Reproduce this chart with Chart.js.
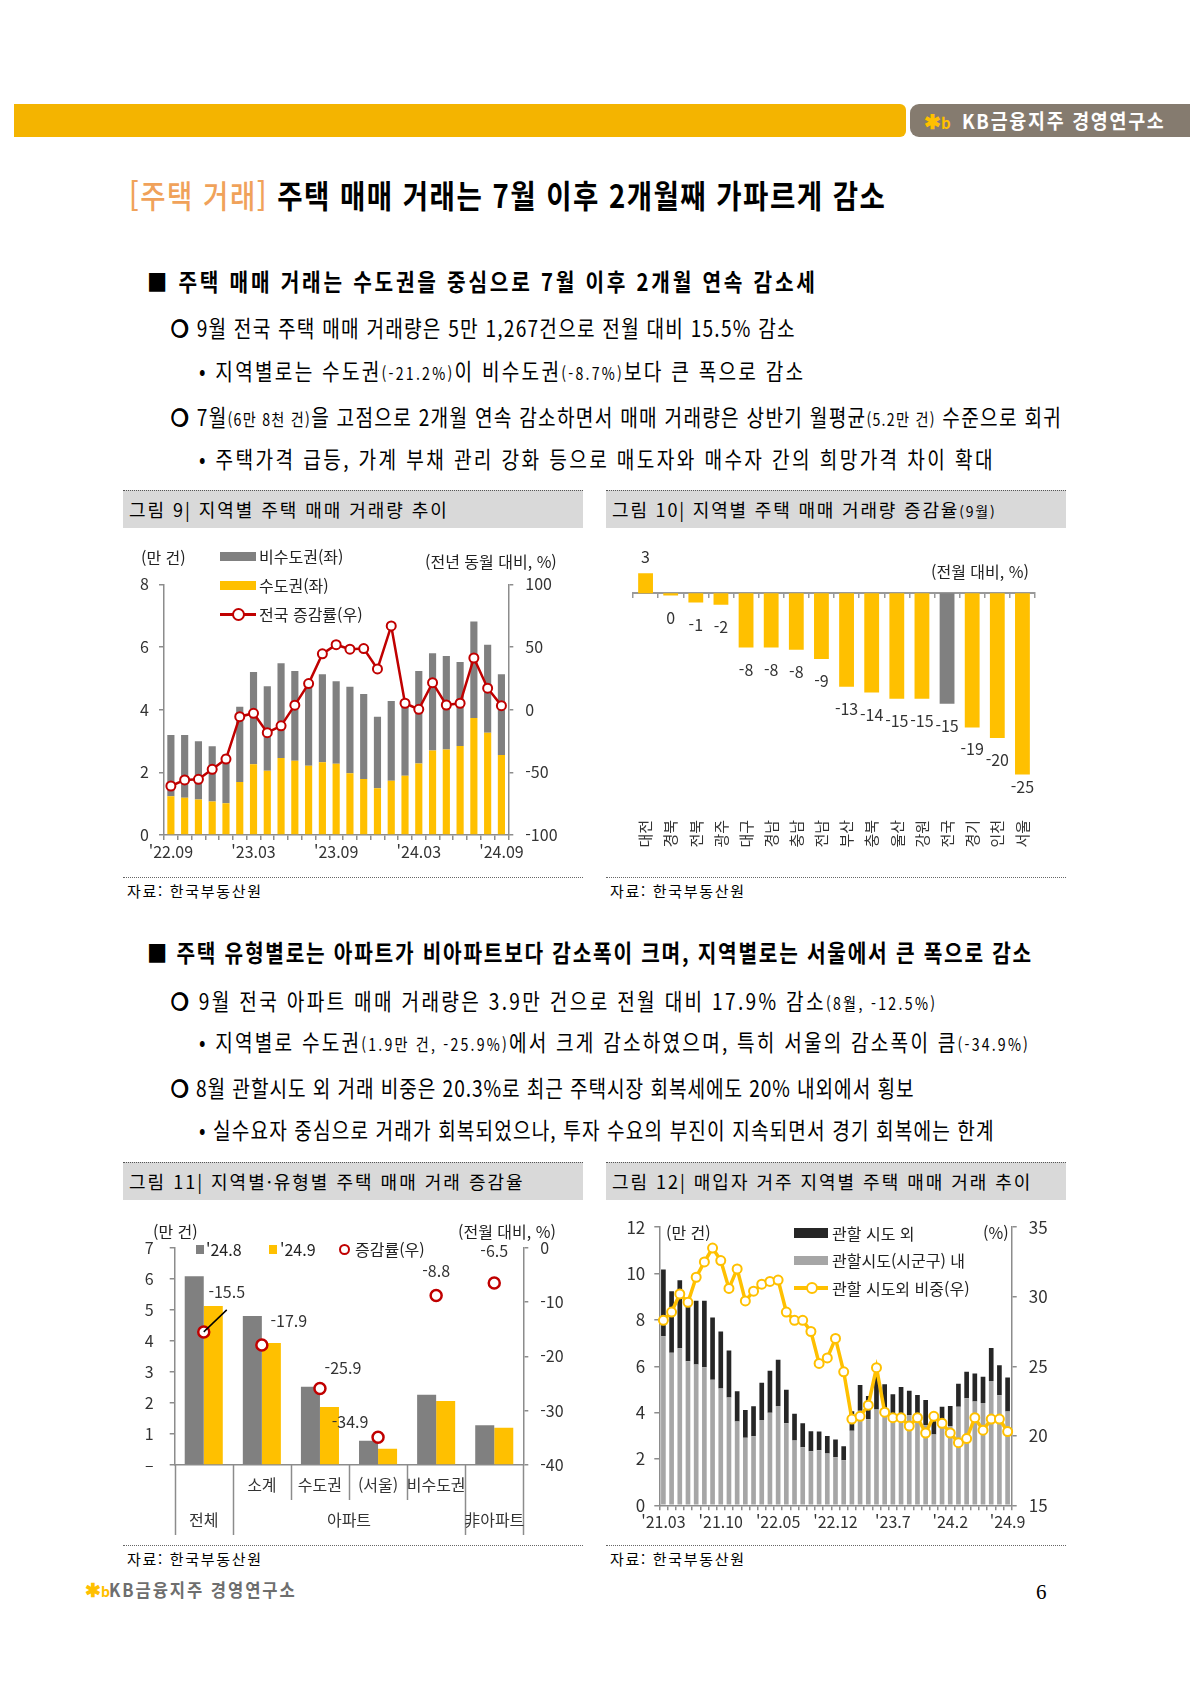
<!DOCTYPE html>
<html lang="ko">
<head>
<meta charset="utf-8">
<title>주택 매매 거래</title>
<script src="https://cdn.jsdelivr.net/npm/chart.js@4.4.1/dist/chart.umd.min.js"></script>
<style>
  html, body { margin: 0; padding: 0; background: #fff; }
  body { width: 1190px; height: 1683px; position: relative; overflow: hidden;
         font-family: 'Noto Sans CJK KR', 'Noto Sans', sans-serif; color: #000; }
  .t { position: absolute; white-space: nowrap; line-height: 30px; height: 30px; }
  .s { font-size: 0.74em; }
  .o { font-weight: 700; -webkit-text-stroke: 0.6px #000; }
  canvas { position: absolute; }
  .cap { position: absolute; height: 38px; width: 460px; background: #D9D9D9; border-top: 1.5px dotted #555;
         box-sizing: border-box; font-size: 18px; line-height: 36px; padding-left: 6px; white-space: nowrap; }
  .src { position: absolute; width: 460px; border-top: 1px dotted #666; font-size: 15px; line-height: 26px;
         padding-left: 4px; box-sizing: border-box; white-space: nowrap; }
  .lg { position: absolute; white-space: nowrap; font-size: 16px; line-height: 20px; height: 20px; color: #222; }
  .sw { position: absolute; }
  .h2 { font-size: 23.5px; font-weight: 700; }
  .b { font-size: 22.5px; }
</style>
</head>
<body>

<!-- header -->
<div style="position:absolute;left:14px;top:104px;width:892px;height:33px;background:#F4B400;border-radius:0 6px 6px 0;"></div>
<div style="position:absolute;left:910px;top:104px;width:280px;height:33px;background:#857B6F;border-radius:9px 0 0 9px;"></div>
<div class="t" style="left:924px;top:106px;font-size:20px;color:#FFC000;font-weight:700;">✱<span style="font-size:15px;">b</span></div>
<div class="t" data-w="204" data-sx="0.92" style="left:962px;top:106px;font-size:20px;color:#fff;font-weight:700;">KB금융지주 경영연구소</div>

<div class="t" data-w="757" data-sx="0.86" style="left:129px;top:175px;font-size:32px;font-weight:700;line-height:38px;height:38px;"><span style="color:#F0A25A;font-weight:500;">[주택 거래]</span> 주택 매매 거래는 7월 이후 2개월째 가파르게 감소</div>

<!-- section 1 -->
<div class="t h2" data-w="671" data-sx="0.86" style="left:147px;top:266px;">■ 주택 매매 거래는 수도권을 중심으로 7월 이후 2개월 연속 감소세</div>
<div class="t b" data-w="625" data-sx="0.85" style="left:171px;top:312px;"><span class="o">❍</span> 9월 전국 주택 매매 거래량은 5만 1,267건으로 전월 대비 15.5% 감소</div>
<div class="t b" data-w="606" data-sx="0.85" style="left:199px;top:355px;">• 지역별로는 수도권<span class="s">(-21.2%)</span>이 비수도권<span class="s">(-8.7%)</span>보다 큰 폭으로 감소</div>
<div class="t b" data-w="891" data-sx="0.85" style="left:171px;top:401px;"><span class="o">❍</span> 7월<span class="s">(6만 8천 건)</span>을 고점으로 2개월 연속 감소하면서 매매 거래량은 상반기 월평균<span class="s">(5.2만 건)</span> 수준으로 회귀</div>
<div class="t b" data-w="796" data-sx="0.85" style="left:199px;top:443px;">• 주택가격 급등, 가계 부채 관리 강화 등으로 매도자와 매수자 간의 희망가격 차이 확대</div>

<div class="cap" style="left:123px;top:490px;"><span data-w="320">그림 9| 지역별 주택 매매 거래량 추이</span></div>
<div class="cap" style="left:606px;top:490px;"><span data-w="385">그림 10| 지역별 주택 매매 거래량 증감율<span style="font-size:14px;">(9월)</span></span></div>

<canvas id="c9" width="462" height="340" style="left:123px;top:530px;"></canvas>
<canvas id="c10" width="462" height="340" style="left:606px;top:530px;"></canvas>

<!-- chart 9 legend -->
<div class="lg" style="left:141px;top:547px;">(만 건)</div>
<div class="sw" style="left:220px;top:552px;width:36px;height:9px;background:#808080;"></div>
<div class="lg" style="left:259px;top:546px;">비수도권(좌)</div>
<div class="sw" style="left:220px;top:581px;width:36px;height:9px;background:#FFC000;"></div>
<div class="lg" style="left:259px;top:575px;">수도권(좌)</div>
<div class="sw" style="left:220px;top:613px;width:36px;height:2.5px;background:#C00000;"></div>
<div class="sw" style="left:232px;top:608px;width:9px;height:9px;border:2px solid #C00000;border-radius:50%;background:#fff;"></div>
<div class="lg" style="left:259px;top:604px;">전국 증감률(우)</div>
<div class="lg" style="left:425px;top:551px;">(전년 동월 대비, %)</div>

<!-- chart 10 unit -->
<div class="lg" style="left:931px;top:561px;">(전월 대비, %)</div>

<div class="src" style="left:123px;top:877px;"><span data-w="136">자료: 한국부동산원</span></div>
<div class="src" style="left:606px;top:877px;"><span data-w="136">자료: 한국부동산원</span></div>

<!-- section 2 -->
<div class="t h2" data-w="886" data-sx="0.86" style="left:147px;top:937px;">■ 주택 유형별로는 아파트가 비아파트보다 감소폭이 크며, 지역별로는 서울에서 큰 폭으로 감소</div>
<div class="t b" data-w="766" data-sx="0.85" style="left:171px;top:985px;"><span class="o">❍</span> 9월 전국 아파트 매매 거래량은 3.9만 건으로 전월 대비 17.9% 감소<span class="s">(8월, -12.5%)</span></div>
<div class="t b" data-w="831" data-sx="0.85" style="left:199px;top:1026px;">• 지역별로 수도권<span class="s">(1.9만 건, -25.9%)</span>에서 크게 감소하였으며, 특히 서울의 감소폭이 큼<span class="s">(-34.9%)</span></div>
<div class="t b" data-w="744" data-sx="0.85" style="left:171px;top:1072px;"><span class="o">❍</span> 8월 관할시도 외 거래 비중은 20.3%로 최근 주택시장 회복세에도 20% 내외에서 횡보</div>
<div class="t b" data-w="796" data-sx="0.85" style="left:199px;top:1114px;">• 실수요자 중심으로 거래가 회복되었으나, 투자 수요의 부진이 지속되면서 경기 회복에는 한계</div>

<div class="cap" style="left:123px;top:1162px;"><span data-w="396">그림 11| 지역별·유형별 주택 매매 거래 증감율</span></div>
<div class="cap" style="left:606px;top:1162px;"><span data-w="420">그림 12| 매입자 거주 지역별 주택 매매 거래 추이</span></div>

<canvas id="c11" width="462" height="340" style="left:123px;top:1205px;"></canvas>
<canvas id="c12" width="470" height="340" style="left:600px;top:1205px;"></canvas>

<!-- chart 11 legend -->
<div class="lg" style="left:153px;top:1221px;">(만 건)</div>
<div class="sw" style="left:196px;top:1245px;width:8px;height:9px;background:#808080;"></div>
<div class="lg" style="left:206px;top:1239px;">'24.8</div>
<div class="sw" style="left:269px;top:1245px;width:8px;height:9px;background:#FFC000;"></div>
<div class="lg" style="left:280px;top:1239px;">'24.9</div>
<div class="sw" style="left:339px;top:1244px;width:7px;height:7px;border:2.5px solid #C00000;border-radius:50%;background:#fff;"></div>
<div class="lg" style="left:355px;top:1239px;">증감률(우)</div>
<div class="lg" style="left:458px;top:1221px;">(전월 대비, %)</div>

<!-- chart 12 legend -->
<div class="lg" style="left:666px;top:1222px;">(만 건)</div>
<div class="sw" style="left:794px;top:1228px;width:34px;height:10px;background:#262626;"></div>
<div class="lg" style="left:832px;top:1223px;">관할 시도 외</div>
<div class="sw" style="left:794px;top:1256px;width:34px;height:9px;background:#A6A6A6;"></div>
<div class="lg" style="left:832px;top:1250px;">관할시도(시군구) 내</div>
<div class="sw" style="left:794px;top:1286px;width:34px;height:3.5px;background:#FFC000;"></div>
<div class="sw" style="left:806px;top:1282px;width:8px;height:8px;border:2px solid #FFC000;border-radius:50%;background:#fff;"></div>
<div class="lg" style="left:832px;top:1278px;">관할 시도외 비중(우)</div>
<div class="lg" style="left:983px;top:1222px;">(%)</div>

<div class="src" style="left:123px;top:1545px;"><span data-w="136">자료: 한국부동산원</span></div>
<div class="src" style="left:606px;top:1545px;"><span data-w="136">자료: 한국부동산원</span></div>

<!-- footer -->
<div class="t" style="left:85px;top:1574px;font-size:19px;color:#FFC000;font-weight:700;">✱<span style="font-size:14px;">b</span></div>
<div class="t" data-w="188" data-sx="0.92" style="left:109px;top:1574px;font-size:18px;color:#6E6E6E;font-weight:700;">KB금융지주 경영연구소</div>
<div class="t" style="left:1036px;top:1577px;font-size:21px;font-family:'Liberation Serif','DejaVu Serif',serif;">6</div>

<script>
// ---------- data ----------
// 그림 9: 지역별 주택 매매 거래량 (만 건) / 전국 증감률 (전년 동월 대비, %)
const months9 = ["'22.09", "'22.10", "'22.11", "'22.12", "'23.01", "'23.02", "'23.03", "'23.04", "'23.05",
  "'23.06", "'23.07", "'23.08", "'23.09", "'23.10", "'23.11", "'23.12", "'24.01", "'24.02", "'24.03",
  "'24.04", "'24.05", "'24.06", "'24.07", "'24.08", "'24.09"];
const metro9 = [1.24, 1.19, 1.13, 1.07, 1.01, 1.69, 2.26, 2.05, 2.46, 2.37, 2.21, 2.32, 2.27, 1.97, 1.79,
  1.49, 1.73, 1.89, 2.28, 2.70, 2.73, 2.84, 3.73, 3.26, 2.55];
const nonMetro9 = [1.95, 2.00, 1.86, 1.76, 1.56, 2.40, 2.94, 2.70, 3.02, 2.86, 2.54, 2.81, 2.64, 2.76, 2.71,
  2.28, 2.55, 2.33, 2.95, 3.10, 2.98, 2.68, 3.08, 2.81, 2.58];
const yoy9 = [-60.9, -56.1, -55.6, -47.6, -39.4, -5.6, -2.9, -18.4, -12.9, 3.6, 20.8, 44.5, 51.8, 48.2, 48.7,
  32.5, 66.8, 5.1, 0.3, 21.5, 3.7, 5.1, 41.2, 17.1, 3.2];

// 그림 10: 지역별 증감율 (전월 대비, %)
const regions10 = ['대전', '경북', '전북', '광주', '대구', '경남', '충남', '전남', '부산', '충북', '울산', '강원',
  '전국', '경기', '인천', '서울'];
const chg10 = [2.8, -0.3, -1.3, -1.6, -7.6, -7.6, -7.9, -9.2, -13.1, -13.9, -14.8, -14.8, -15.5, -18.8, -20.3, -25.4];

// 그림 11: 지역별·유형별 (만 건) / 증감률 (%)
const types11 = ['전체', '아파트 소계', '아파트 수도권', '아파트 (서울)', '아파트 비수도권', '非아파트'];
const typeRow1 = ['', '소계', '수도권', '(서울)', '비수도권', ''];
const typeGroups = [['전체', 0, 0], ['아파트', 1, 4], ['非아파트', 5, 5]];
const aug11 = [6.08, 4.80, 2.52, 0.78, 2.26, 1.28];
const sep11 = [5.12, 3.93, 1.87, 0.52, 2.06, 1.20];
const chg11 = [-15.5, -17.9, -25.9, -34.9, -8.8, -6.5];

// 그림 12: 매입자 거주 지역별 (만 건) / 관할 시도외 비중 (%)
const months12 = ["'21.03", "'21.04", "'21.05", "'21.06", "'21.07", "'21.08", "'21.09", "'21.10", "'21.11",
  "'21.12", "'22.01", "'22.02", "'22.03", "'22.04", "'22.05", "'22.06", "'22.07", "'22.08", "'22.09",
  "'22.10", "'22.11", "'22.12", "'23.1", "'23.2", "'23.3", "'23.4", "'23.5", "'23.6", "'23.7", "'23.8",
  "'23.9", "'23.10", "'23.11", "'23.12", "'24.1", "'24.2", "'24.3", "'24.4", "'24.5", "'24.6", "'24.7",
  "'24.8", "'24.9"];
const tickIdx12 = [0, 7, 14, 21, 28, 35, 42];
const inner12 = [7.29, 6.58, 6.78, 6.22, 6.08, 5.96, 5.42, 5.04, 4.65, 3.62, 2.92, 2.98, 3.68, 3.99, 4.29,
  3.54, 2.80, 2.51, 2.33, 2.38, 2.23, 2.07, 1.94, 3.22, 4.08, 3.71, 4.13, 3.96, 3.88, 3.95, 3.90, 3.62,
  3.45, 3.05, 3.40, 3.42, 4.25, 4.62, 4.48, 4.41, 5.36, 4.75, 4.05];
const outer12 = [2.88, 2.66, 2.93, 2.38, 2.75, 2.87, 2.68, 2.46, 2.03, 1.30, 1.19, 1.29, 1.61, 1.82, 1.99,
  1.45, 1.15, 1.03, 0.87, 0.80, 0.76, 0.77, 0.61, 0.84, 1.11, 1.01, 1.47, 1.26, 0.91, 1.16, 1.04, 1.14,
  1.09, 0.75, 0.85, 0.87, 1.00, 1.14, 1.21, 1.14, 1.43, 1.29, 1.46];
const share12 = [28.3, 28.9, 30.2, 29.6, 31.4, 32.5, 33.5, 32.6, 30.6, 32.0, 29.7, 30.4, 30.9, 31.1, 31.2,
  28.9, 28.3, 28.3, 27.5, 25.2, 25.6, 27.0, 24.6, 21.2, 21.4, 22.2, 24.9, 21.7, 21.3, 21.3, 20.7, 21.3,
  20.2, 21.4, 20.9, 20.2, 19.5, 19.8, 21.3, 20.4, 21.2, 21.2, 20.3];

// narrow the report font and spread it to the widths the lines take in the report
document.querySelectorAll('[data-w]').forEach(el => {
  const sx = +(el.dataset.sx || 1);
  if (sx !== 1) {
    el.style.transform = 'scaleX(' + sx + ')';
    el.style.transformOrigin = '0 50%';
  }
  const gap = (+el.dataset.w / sx - el.offsetWidth) / el.textContent.length;
  el.style.letterSpacing = gap.toFixed(2) + 'px';
});

// ---------- style ----------
const FONT = "'Noto Sans CJK KR', 'Noto Sans', sans-serif";
const RED = '#C00000', YELLOW = '#FFC000', GREY = '#808080', AXIS = '#8C8C8C';
Chart.defaults.font.family = FONT;
Chart.defaults.font.size = 16;
Chart.defaults.color = '#333';

function axisGrid(len) {
  return { drawOnChartArea: false, drawTicks: true, tickLength: len, color: AXIS, lineWidth: 1.5 };
}
const axisBorder = { color: AXIS, width: 1.5 };
const noPlugins = { legend: { display: false }, tooltip: { enabled: false } };

// ---------- 그림 9 ----------
new Chart(document.getElementById('c9'), {
  type: 'bar',
  data: {
    labels: months9,
    datasets: [
      { type: 'line', label: '전국 증감률(우)', data: yoy9, yAxisID: 'y1', order: 0,
        borderColor: RED, borderWidth: 2.5, pointRadius: 4.5, pointBorderWidth: 2,
        pointBackgroundColor: '#fff', pointBorderColor: RED },
      { label: '수도권(좌)', data: metro9, backgroundColor: YELLOW, order: 1 },
      { label: '비수도권(좌)', data: nonMetro9, backgroundColor: GREY, order: 1 }
    ]
  },
  options: {
    responsive: false, animation: false,
    layout: { padding: { top: 54.3, left: 0, right: 0, bottom: 0 } },
    datasets: { bar: { barPercentage: 0.52, categoryPercentage: 1 } },
    plugins: noPlugins,
    scales: {
      x: { stacked: true, offset: true, grid: Object.assign(axisGrid(5), { offset: true }), border: axisBorder,
           ticks: { autoSkip: false, maxRotation: 0, padding: 2,
                    callback: (v, i) => (i % 6 === 0 ? months9[i] : '') },
           afterFit: s => { s.height = 35; } },
      y: { stacked: true, min: 0, max: 8, grid: axisGrid(5), border: axisBorder,
           ticks: { stepSize: 2, padding: 10 }, afterFit: s => { s.width = 41; } },
      y1: { position: 'right', min: -100, max: 100, grid: axisGrid(5), border: axisBorder,
            ticks: { stepSize: 50, padding: 12 }, afterFit: s => { s.width = 76.7; } }
    }
  }
});

// ---------- 그림 10 ----------
const regionLabels = {
  id: 'regionLabels',
  afterDatasetsDraw(chart) {
    const ctx = chart.ctx;
    const bottom = chart.chartArea.bottom;
    ctx.save();
    ctx.font = '16px ' + FONT;
    ctx.fillStyle = '#333';
    ctx.textAlign = 'center';
    ctx.textBaseline = 'middle';
    chart.getDatasetMeta(0).data.forEach((bar, i) => {
      const v = chg10[i];
      const y = v >= 0 ? bar.y - 16 : Math.min(bar.y + 22, bottom - 6);
      ctx.fillText(String(Math.round(v)), bar.x, y);
    });
    ctx.restore();
  }
};
new Chart(document.getElementById('c10'), {
  type: 'bar',
  data: {
    labels: regions10,
    datasets: [{ label: '증감율', data: chg10,
                 backgroundColor: regions10.map(r => (r === '전국' ? GREY : YELLOW)) }]
  },
  options: {
    responsive: false, animation: false,
    layout: { padding: { top: 34.8, left: 27, right: 18, bottom: 0 } },
    datasets: { bar: { barPercentage: 0.59, categoryPercentage: 1 } },
    plugins: noPlugins,
    scales: {
      x: { offset: true, border: { display: false }, grid: { display: false, drawTicks: false },
           ticks: { autoSkip: false, minRotation: 90, maxRotation: 90, padding: 27, font: { size: 15 } },
           afterFit: s => { s.height = 77; } },
      xz: { type: 'category', position: { y: 0 }, offset: true,
            grid: { offset: true, drawOnChartArea: false, drawTicks: true, tickLength: 4, color: '#999', lineWidth: 1.5 },
            border: { color: '#999', width: 2 }, ticks: { display: false } },
      y: { display: false, min: -28, max: 4 }
    }
  },
  plugins: [regionLabels]
});

// ---------- 그림 11 ----------
const chgLabelPos = [[23, -40], [27, -24], [23, -20], [-28, -15], [0, -25], [0, -32]];
const typeAxis = {
  id: 'typeAxis',
  afterDatasetsDraw(chart) {
    const ctx = chart.ctx;
    const pts = chart.getDatasetMeta(0).data;
    ctx.save();
    ctx.strokeStyle = '#000';
    ctx.lineWidth = 1.5;
    ctx.beginPath();
    ctx.moveTo(pts[0].x, pts[0].y);
    ctx.lineTo(pts[0].x + 23, pts[0].y - 22);
    ctx.stroke();
    ctx.font = '16px ' + FONT;
    ctx.fillStyle = '#333';
    ctx.textAlign = 'center';
    ctx.textBaseline = 'middle';
    pts.forEach((p, i) => {
      ctx.fillText(String(chg11[i]), p.x + chgLabelPos[i][0], p.y + chgLabelPos[i][1]);
    });
    ctx.restore();
  },
  afterDraw(chart) {
    const { ctx, chartArea: a } = chart;
    const xs = chart.scales.x;
    const w = (a.right - a.left) / types11.length;
    ctx.save();
    ctx.strokeStyle = AXIS;
    ctx.lineWidth = 1.5;
    const edges = new Set();
    typeGroups.forEach(g => { edges.add(g[1]); edges.add(g[2] + 1); });
    for (let i = 0; i <= types11.length; i++) {
      const x = Math.round(a.left + i * w) + 0.5;
      ctx.beginPath();
      ctx.moveTo(x, a.bottom);
      ctx.lineTo(x, a.bottom + (edges.has(i) ? 70 : 35));
      ctx.stroke();
    }
    ctx.font = '16px ' + FONT;
    ctx.fillStyle = '#333';
    ctx.textAlign = 'center';
    ctx.textBaseline = 'middle';
    typeRow1.forEach((t, i) => { if (t) ctx.fillText(t, xs.getPixelForValue(i), a.bottom + 20); });
    typeGroups.forEach(g => {
      ctx.fillText(g[0], (xs.getPixelForValue(g[1]) + xs.getPixelForValue(g[2])) / 2, a.bottom + 55);
    });
    ctx.restore();
  }
};
new Chart(document.getElementById('c11'), {
  type: 'bar',
  data: {
    labels: types11,
    datasets: [
      { type: 'line', label: '증감률(우)', data: chg11, yAxisID: 'y1', order: 0, showLine: false,
        pointRadius: 5.5, pointBorderWidth: 2.5, pointBackgroundColor: '#fff', pointBorderColor: RED },
      { label: "'24.8", data: aug11, backgroundColor: GREY, order: 1 },
      { label: "'24.9", data: sep11, backgroundColor: YELLOW, order: 1 }
    ]
  },
  options: {
    responsive: false, animation: false,
    layout: { padding: { top: 42.7, left: 0, right: 0, bottom: 0 } },
    datasets: { bar: { barPercentage: 1, categoryPercentage: 0.655 } },
    plugins: noPlugins,
    scales: {
      x: { offset: true, grid: { display: false, drawTicks: false }, border: axisBorder,
           ticks: { display: false }, afterFit: s => { s.height = 80; } },
      y: { min: 0, max: 7, grid: axisGrid(5), border: axisBorder,
           ticks: { stepSize: 1, padding: 16, callback: v => (v === 0 ? '–' : v) },
           afterFit: s => { s.width = 51.7; } },
      y1: { position: 'right', min: -40, max: 0, grid: axisGrid(5), border: axisBorder,
            ticks: { stepSize: 10, padding: 12 }, afterFit: s => { s.width = 61.7; } }
    }
  },
  plugins: [typeAxis]
});

// ---------- 그림 12 ----------
new Chart(document.getElementById('c12'), {
  type: 'bar',
  data: {
    labels: months12,
    datasets: [
      { type: 'line', label: '관할 시도외 비중(우)', data: share12, yAxisID: 'y1', order: 0,
        borderColor: YELLOW, borderWidth: 3.5, pointRadius: 4.5, pointBorderWidth: 2,
        pointBackgroundColor: '#fff', pointBorderColor: YELLOW },
      { label: '관할시도(시군구) 내', data: inner12, backgroundColor: '#A6A6A6', order: 1 },
      { label: '관할 시도 외', data: outer12, backgroundColor: '#262626', order: 1 }
    ]
  },
  options: {
    responsive: false, animation: false,
    layout: { padding: { top: 20, left: 0, right: 0, bottom: 0 } },
    datasets: { bar: { barPercentage: 0.57, categoryPercentage: 1 } },
    plugins: noPlugins,
    scales: {
      x: { stacked: true, offset: true, grid: Object.assign(axisGrid(5), { offset: true }), border: axisBorder,
           ticks: { autoSkip: false, maxRotation: 0, padding: 2,
                    callback: (v, i) => (tickIdx12.includes(i) ? months12[i] : '') },
           afterFit: s => { s.height = 39.7; } },
      y: { stacked: true, min: 0, max: 12, grid: axisGrid(5), border: axisBorder,
           ticks: { stepSize: 2, padding: 9, font: { size: 17 } }, afterFit: s => { s.width = 59.3; } },
      y1: { position: 'right', min: 15, max: 35, grid: axisGrid(5), border: axisBorder,
            ticks: { stepSize: 5, padding: 12, font: { size: 17 } }, afterFit: s => { s.width = 58.3; } }
    }
  }
});
</script>
</body>
</html>
